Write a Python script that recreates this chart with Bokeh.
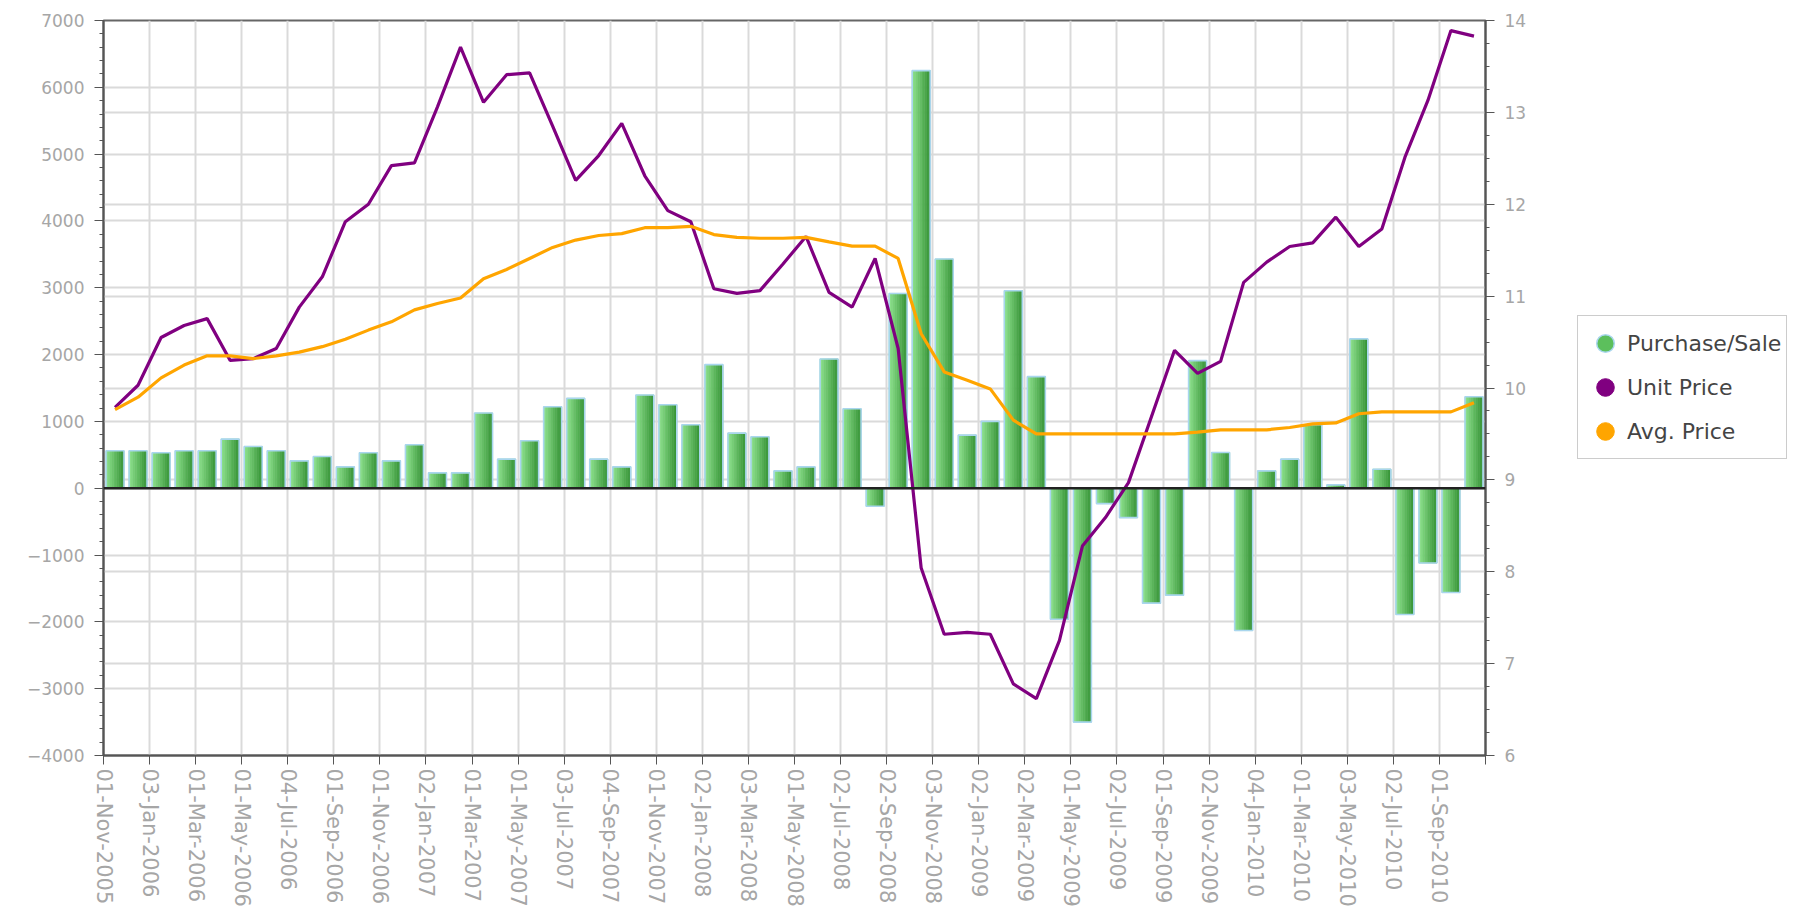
import math
from bokeh.plotting import figure
from bokeh.layouts import row
from bokeh.models import (Range1d, LinearAxis, SingleIntervalTicker, FixedTicker, Grid,
                          Span, Legend, LegendItem, ColumnDataSource)
from bokeh.transform import dodge
from bokeh.embed import file_html
from bokeh.resources import INLINE

# ---------------- data ----------------
months = [
    "Nov-2005", "Dec-2005",
    "Jan-2006", "Feb-2006", "Mar-2006", "Apr-2006", "May-2006", "Jun-2006",
    "Jul-2006", "Aug-2006", "Sep-2006", "Oct-2006", "Nov-2006", "Dec-2006",
    "Jan-2007", "Feb-2007", "Mar-2007", "Apr-2007", "May-2007", "Jun-2007",
    "Jul-2007", "Aug-2007", "Sep-2007", "Oct-2007", "Nov-2007", "Dec-2007",
    "Jan-2008", "Feb-2008", "Mar-2008", "Apr-2008", "May-2008", "Jun-2008",
    "Jul-2008", "Aug-2008", "Sep-2008", "Oct-2008", "Nov-2008", "Dec-2008",
    "Jan-2009", "Feb-2009", "Mar-2009", "Apr-2009", "May-2009", "Jun-2009",
    "Jul-2009", "Aug-2009", "Sep-2009", "Oct-2009", "Nov-2009", "Dec-2009",
    "Jan-2010", "Feb-2010", "Mar-2010", "Apr-2010", "May-2010", "Jun-2010",
    "Jul-2010", "Aug-2010", "Sep-2010", "Oct-2010",
]

tick_labels = [
    "01-Nov-2005", "03-Jan-2006", "01-Mar-2006", "01-May-2006", "04-Jul-2006",
    "01-Sep-2006", "01-Nov-2006", "02-Jan-2007", "01-Mar-2007", "01-May-2007",
    "03-Jul-2007", "04-Sep-2007", "01-Nov-2007", "02-Jan-2008", "03-Mar-2008",
    "01-May-2008", "02-Jul-2008", "02-Sep-2008", "03-Nov-2008", "02-Jan-2009",
    "02-Mar-2009", "01-May-2009", "02-Jul-2009", "01-Sep-2009", "02-Nov-2009",
    "04-Jan-2010", "01-Mar-2010", "03-May-2010", "02-Jul-2010", "01-Sep-2010",
]

purchase_sale = [
    560, 560, 530, 560, 560, 735, 625, 560, 410, 475,
    320, 530, 410, 650, 230, 230, 1125, 435, 710, 1220,
    1345, 435, 320, 1395, 1250, 950, 1850, 825, 770, 260,
    320, 1935, 1190, -270, 2915, 6250, 3430, 795, 1000, 2955,
    1670, -1960, -3500, -230, -440, -1720, -1600, 1910, 535, -2130,
    260, 435, 950, 50, 2235, 285, -1890, -1120, -1560, 1370,
]

unit_price = [
    9.79, 10.03, 10.55, 10.68, 10.755, 10.30, 10.32, 10.43, 10.88, 11.21,
    11.81, 12.00, 12.42, 12.45, 13.06, 13.71, 13.11, 13.41, 13.43, 12.85,
    12.26, 12.53, 12.88, 12.31, 11.93, 11.81, 11.08, 11.03, 11.06, 11.35,
    11.65, 11.04, 10.88, 11.41, 10.43, 8.04, 7.32, 7.34, 7.32, 6.78,
    6.62, 7.25, 8.28, 8.59, 8.97, 9.69, 10.41, 10.16, 10.29, 11.15,
    11.37, 11.54, 11.58, 11.86, 11.54, 11.73, 12.51, 13.13, 13.89, 13.83,
]

avg_price = [
    9.765, 9.90, 10.11, 10.25, 10.35, 10.35, 10.32, 10.35, 10.39, 10.45,
    10.53, 10.63, 10.72, 10.85, 10.92, 10.98, 11.19, 11.29, 11.41, 11.53,
    11.61, 11.66, 11.68, 11.745, 11.745, 11.76, 11.67, 11.64, 11.63, 11.63,
    11.64, 11.59, 11.545, 11.545, 11.41, 10.59, 10.175, 10.085, 9.99, 9.65,
    9.50, 9.50, 9.50, 9.50, 9.50, 9.50, 9.50, 9.52, 9.545, 9.545,
    9.545, 9.57, 9.61, 9.62, 9.72, 9.74, 9.74, 9.74, 9.74, 9.84,
]

series_names = ["Purchase/Sale", "Unit Price", "Avg. Price"]

# ---------------- figure ----------------
n = len(months)
xs = [i + 0.5 for i in range(n)]
src = ColumnDataSource(dict(x=xs, month=months, ps=purchase_sale,
                            up=unit_price, ap=avg_price))

FONT = "DejaVu Sans"
LABEL_COLOR = "#a6a6a6"
AXIS_COLOR = "#555555"
GRID_COLOR = "#dadada"
GREEN = "#5cbf5c"
BAR_EDGE = "#a9d6ee"
PURPLE = "#800080"
ORANGE = "#ffa500"

W_MAIN, W_LEG, H = 1540, 250, 910
B_TOP, B_BOTTOM = 20, 155
p = figure(width=W_MAIN, height=H, output_backend="svg", toolbar_location=None,
           x_range=Range1d(0, n), y_range=Range1d(-4000, 7000),
           min_border_left=103, min_border_right=55, min_border_top=B_TOP,
           min_border_bottom=B_BOTTOM, background_fill_color="white",
           border_fill_color="white")
p.extra_y_ranges = {"price": Range1d(6, 14)}
p.outline_line_color = "#666666"
p.outline_line_width = 2

# x axis
xticks = list(range(0, n + 1, 2))
overrides = {2 * i: lab for i, lab in enumerate(tick_labels)}
overrides[n] = ""
xa = p.xaxis[0]
xa.ticker = FixedTicker(ticks=xticks)
xa.major_label_overrides = overrides
xa.major_label_orientation = -math.pi / 2
xa.major_label_text_font = FONT
xa.major_label_text_font_size = "21px"
xa.major_label_text_color = LABEL_COLOR
xa.axis_line_color = AXIS_COLOR
xa.axis_line_width = 2
xa.major_tick_line_color = AXIS_COLOR
xa.major_tick_out = 9
xa.major_tick_in = 0
xa.major_label_standoff = 4

# left axis
ya = p.yaxis[0]
ya.ticker = SingleIntervalTicker(interval=1000, num_minor_ticks=5)

right_ticker = SingleIntervalTicker(interval=1, num_minor_ticks=4)
yr = LinearAxis(y_range_name="price", ticker=right_ticker)
p.add_layout(yr, "right")

for ax in (ya, yr):
    ax.major_label_text_font = FONT
    ax.major_label_text_font_size = "17px"
    ax.major_label_text_color = LABEL_COLOR
    ax.axis_line_color = AXIS_COLOR
    ax.axis_line_width = 2
    ax.major_tick_line_color = AXIS_COLOR
    ax.minor_tick_line_color = AXIS_COLOR
    ax.major_tick_out = 9
    ax.major_tick_in = 0
    ax.minor_tick_out = 4
    ax.minor_tick_in = 0
    ax.major_label_standoff = 10

# grids
p.xgrid.ticker = FixedTicker(ticks=xticks)
p.xgrid.grid_line_color = GRID_COLOR
p.xgrid.grid_line_width = 2
p.ygrid.grid_line_color = GRID_COLOR
p.ygrid.grid_line_width = 2
rgrid = Grid(dimension=1, ticker=right_ticker, y_range_name="price",
             grid_line_color=GRID_COLOR, grid_line_width=2)
p.add_layout(rgrid)

# bars: gradient approximated by vertical strips
BW = 0.78
NS = 10
light = (0x8c, 0xe0, 0x8c)
dark = (0x38, 0x96, 0x38)
sw = BW / NS
for k in range(NS):
    t = k / (NS - 1)
    c = "#%02x%02x%02x" % tuple(int(round(light[j] + (dark[j] - light[j]) * t)) for j in range(3))
    off = -BW / 2 + (k + 0.5) * sw
    p.vbar(x=dodge("x", off), top="ps", bottom=0, width=sw, fill_color=c,
           line_color=c, line_width=0.6, source=src)
p.vbar(x="x", top="ps", bottom=0, width=BW, fill_color=None,
       line_color=BAR_EDGE, line_width=1.6, source=src)

zero = Span(location=0, dimension="width", line_color="#222222", line_width=2.5)
p.add_layout(zero)

p.line("x", "up", source=src, y_range_name="price", line_color=PURPLE, line_width=3.2)
p.line("x", "ap", source=src, y_range_name="price", line_color=ORANGE, line_width=3.2)

# ---------------- legend panel ----------------
lf = figure(width=W_LEG, height=H, output_backend="svg", toolbar_location=None,
            x_range=Range1d(0, 1), y_range=Range1d(0, 1),
            x_axis_type=None, y_axis_type=None,
            min_border_left=0, min_border_right=0, min_border_top=B_TOP,
            min_border_bottom=B_BOTTOM, background_fill_color="white",
            border_fill_color="white")
lf.outline_line_color = None

nan = float("nan")
lg_ps = lf.scatter(x=[nan], y=[nan], marker="circle", fill_color=GREEN,
                   line_color=BAR_EDGE, line_width=1.5)
lg_up = lf.scatter(x=[nan], y=[nan], marker="circle", fill_color=PURPLE,
                   line_color=PURPLE)
lg_ap = lf.scatter(x=[nan], y=[nan], marker="circle", fill_color=ORANGE,
                   line_color=ORANGE)

frame_bottom = H - B_BOTTOM
legend = Legend(items=[
    LegendItem(label=series_names[0], renderers=[lg_ps]),
    LegendItem(label=series_names[1], renderers=[lg_up]),
    LegendItem(label=series_names[2], renderers=[lg_ap]),
], location=(1577 - W_MAIN, frame_bottom - 459), orientation="vertical")
legend.glyph_width = 44
legend.glyph_height = 44
legend.spacing = 0
legend.padding = 5
legend.label_standoff = 0
legend.margin = 0
legend.label_text_font = FONT
legend.label_text_font_size = "22px"
legend.label_text_color = "#444444"
legend.border_line_color = "#999999"
legend.border_line_width = 1.5
legend.background_fill_color = "white"
legend.background_fill_alpha = 1.0
lf.add_layout(legend)

layout = row(p, lf)
open("out.html", "w").write(file_html(layout, INLINE))
